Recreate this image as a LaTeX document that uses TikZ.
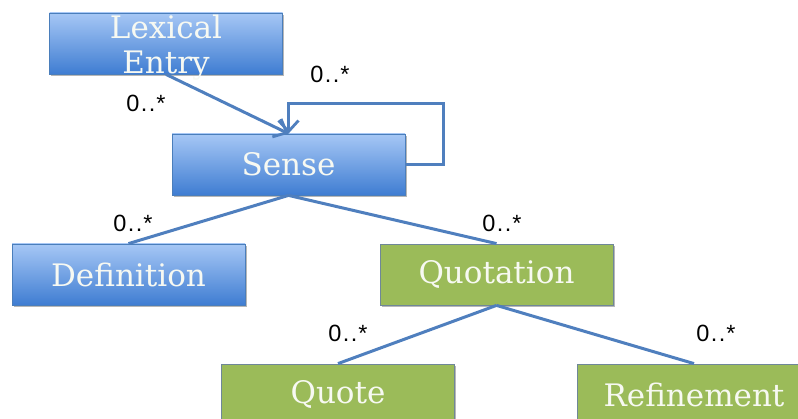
\documentclass[tikz,border=0pt]{standalone}
\usepackage{fontspec}
\setmainfont{DejaVu Serif}
\newfontfamily\lblfont{Liberation Sans}
\usetikzlibrary{arrows.meta,shadows}
\definecolor{boxtop}{HTML}{A6C7F5}
\definecolor{boxbot}{HTML}{3F7DD2}
\definecolor{boxline}{HTML}{4A7EBB}
\definecolor{greenfill}{HTML}{9BBB59}
\definecolor{greenline}{HTML}{6F8798}
\definecolor{conn}{HTML}{4F7FBE}
\definecolor{boxtext}{HTML}{F7F9F2}
\tikzset{
  basebox/.style={rectangle, minimum width=233pt, minimum height=61pt, inner sep=0pt,
    text=boxtext, font=\fontsize{31}{34}\selectfont, align=center, line width=0.8pt,
    drop shadow={shadow xshift=1.5pt, shadow yshift=-2.5pt, opacity=0.4, fill=black!70}},
  bluebox/.style={basebox, draw=boxline, top color=boxtop, bottom color=boxbot},
  greenbox/.style={basebox, draw=greenline, fill=greenfill},
  boxlabel/.style={text=boxtext, font=\fontsize{31}{35}\selectfont, align=center, inner sep=0pt},
  link/.style={draw=conn, line width=3pt},
  arrowlink/.style={link, -{Straight Barb[length=11pt,width=20pt,line width=2.8pt]}},
  mult/.style={font=\lblfont\fontsize{23.5}{26}\selectfont, text=black, inner sep=0pt}
}
\newcommand{\multtxt}{0\kern1.5pt.\kern1.5pt.\kern1pt*}
\begin{document}
\begin{tikzpicture}[x=1pt,y=-1pt]
\useasboundingbox (0,0) rectangle (798,419);
\clip (0,0) rectangle (798,419);
\node[bluebox] (lex) at (166,43.5) {};
\node[boxlabel] (lexT) at (166,48) {Lexical\\Entry};
\node[bluebox] (sense) at (288.5,164.5) {Sense};
\node[bluebox] (def) at (128.5,274.5) {Definition};
\node[greenbox] (quot) at (496.5,274.5) {Quotation};
\node[greenbox] (quote) at (338,394.5) {Quote};
\node[greenbox] (refine) at (694,394.5) {Refinement};
\coordinate (loopR) at (443,104);
\draw[arrowlink] (lex.south) -- (sense.north);
\draw[arrowlink] (sense.east) -| (loopR) -| (sense.north);
\draw[link] (sense.south) -- (def.north);
\draw[link] (sense.south) -- (quot.north);
\draw[link] (quot.south) -- (quote.north);
\draw[link] (quot.south) -- (refine.north);
\node[mult] (m1) at (146,103) {\multtxt};
\node[mult] (m2) at (330,74) {\multtxt};
\node[mult] (m3) at (133,223) {\multtxt};
\node[mult] (m4) at (502,223) {\multtxt};
\node[mult] (m5) at (348,333) {\multtxt};
\node[mult] (m6) at (716,333) {\multtxt};
\end{tikzpicture}
\end{document}
